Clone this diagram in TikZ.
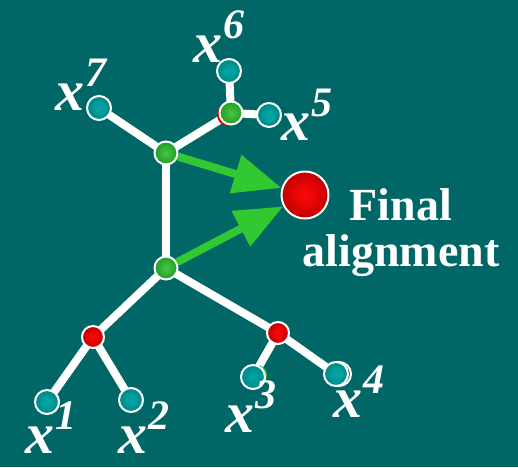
\documentclass[tikz,border=0pt]{standalone}
\usepackage{fontspec}
\setmainfont{Liberation Serif}
\usetikzlibrary{arrows.meta}
\definecolor{bg}{RGB}{0,102,102}
\definecolor{tealin}{RGB}{0,170,170}
\definecolor{tealout}{RGB}{0,135,135}
\definecolor{grnin}{RGB}{70,200,70}
\definecolor{grnout}{RGB}{35,155,35}
\definecolor{redin}{RGB}{255,10,10}
\definecolor{redout}{RGB}{195,0,0}
\definecolor{arrgreen}{RGB}{50,200,50}
\pgfdeclarelayer{bglayer}
\pgfdeclarelayer{edgelayer}
\pgfsetlayers{bglayer,edgelayer,main}
\newcommand\xlab[1]{x\kern1pt\raisebox{24pt}{\fontsize{42}{42}\selectfont #1}}
\begin{document}
\begin{tikzpicture}[x=1pt,y=-1pt,
  dot/.style={circle, draw=white, line width=2pt, inner sep=0pt},
  leaf/.style={dot, minimum size=24pt, inner color=tealin, outer color=tealout},
  gnode/.style={dot, minimum size=23pt, inner color=grnin, outer color=grnout},
  rnode/.style={dot, minimum size=22pt, inner color=redin, outer color=redout},
  final/.style={dot, minimum size=47pt, inner color=redin, outer color=redout},
  edge/.style={draw=white, line width=8pt},
  garrow/.style={draw=arrgreen, line width=8pt, -{Triangle[length=48pt,width=38pt]}},
  lab/.style={text=white, inner sep=0pt, anchor=base west, font=\fontsize{58}{58}\selectfont\bfseries\itshape},
  ftext/.style={text=white, align=center, inner sep=0pt, font=\fontsize{46}{46}\selectfont\bfseries}]
\begin{pgfonlayer}{bglayer}
  \fill[bg] (0,0) rectangle (518,467);
\end{pgfonlayer}
\useasboundingbox (0,0) rectangle (518,467);
% small offset circles behind some nodes
\fill[red!85!black] (228,115) circle (11pt);
\fill[arrgreen] (257,375) circle (10pt);
\draw[white, line width=2pt] (339,374) circle (12pt);
% nodes
\node[gnode] (g1) at (166,153) {};
\node[gnode] (g2) at (166,268) {};
\node[gnode] (g56) at (231,113) {};
\node[rnode] (r12) at (93,337) {};
\node[rnode] (r34) at (278,333) {};
\node[leaf] (x7) at (99,108) {};
\node[leaf] (x6) at (229,71) {};
\node[leaf] (x5) at (269,115) {};
\node[leaf] (x1) at (47,402) {};
\node[leaf] (x2) at (131,400) {};
\node[leaf] (x3) at (253,377) {};
\node[leaf] (x4) at (336,374) {};
\node[final] (fin) at (305,195) {};
% edges
\begin{pgfonlayer}{edgelayer}
  \draw[edge] (x7.center) -- (g1.center);
  \draw[edge] (g1.center) -- (g56.center);
  \draw[edge] (g56.center) -- (x6.center);
  \draw[edge] (g56.center) -- (x5.center);
  \draw[edge] (g1.center) -- (g2.center);
  \draw[edge] (g2.center) -- (r12.center);
  \draw[edge] (g2.center) -- (r34.center);
  \draw[edge] (r12.center) -- (x1.center);
  \draw[edge] (r12.center) -- (x2.center);
  \draw[edge] (r34.center) -- (x3.center);
  \draw[edge] (r34.center) -- (x4.center);
\end{pgfonlayer}
% arrows
\draw[garrow] (g1) -- (fin);
\draw[garrow] (g2) -- (fin);
% labels
\node[lab] (l7) at (55,110) {\xlab{7}};
\node[lab] (l6) at (193,62) {\xlab{6}};
\node[lab] (l5) at (281,140) {\xlab{5}};
\node[lab] (l1) at (25,453) {\xlab{1}};
\node[lab] (l2) at (118,453) {\xlab{2}};
\node[lab] (l3) at (225,432) {\xlab{3}};
\node[lab] (l4) at (333,417) {\xlab{4}};
\node[ftext] (ft) at (401,233) {Final\\alignment};
\end{tikzpicture}
\end{document}
